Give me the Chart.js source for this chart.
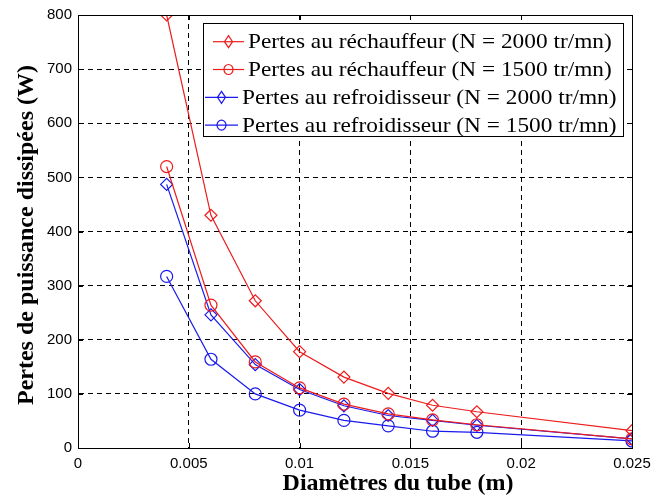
<!DOCTYPE html>
<html><head><meta charset="utf-8">
<script src="https://cdn.jsdelivr.net/npm/chart.js@4"></script>
<style>html,body{margin:0;padding:0;background:#fff}#wrap{width:651px;height:499px}</style>
</head><body><div id="wrap"><canvas id="c" width="651" height="499"></canvas></div>
<script>
const diameters = [0.004, 0.006, 0.008, 0.010, 0.012, 0.014, 0.016, 0.018, 0.025];
const rech2000 = [800, 430, 272, 178, 131, 101, 79, 67, 32];
const rech1500 = [520, 264, 159, 111, 81, 63, 52, 43, 17];
const refr2000 = [487, 246, 154, 108, 78, 60, 51, 42, 17];
const refr1500 = [317, 164, 100, 70, 51, 41, 31, 29, 13];
const xTickLabels = ["0", "0.005", "0.01", "0.015", "0.02", "0.025"];
const yTickLabels = ["0", "100", "200", "300", "400", "500", "600", "700", "800"];
const seriesLabels = [
  "Pertes au réchauffeur (N = 2000 tr/mn)",
  "Pertes au réchauffeur (N = 1500 tr/mn)",
  "Pertes au refroidisseur (N = 2000 tr/mn)",
  "Pertes au refroidisseur (N = 1500 tr/mn)"
];
const xTitle = 'Diamètres du tube (m)';
const yTitle = 'Pertes de puissance dissipées (W)';
const RED = '#ee1c1c', BLUE = '#1a1aee';
const SERIF = '"Liberation Serif", "Times New Roman", serif';
const SANS = '"Liberation Sans", Arial, sans-serif';

const mk = (vals, label, color, style) => ({
  label, data: vals.map((v, i) => ({x: diameters[i], y: v})),
  borderColor: color, backgroundColor: 'rgba(0,0,0,0)', borderWidth: 1.2,
  pointStyle: style, pointRadius: 6, pointBorderWidth: 1.2,
  pointBorderColor: color, pointBackgroundColor: 'rgba(0,0,0,0)', tension: 0
});
const datasets = [
  mk(rech2000, seriesLabels[0], RED, 'rectRot'),
  mk(rech1500, seriesLabels[1], RED, 'circle'),
  mk(refr2000, seriesLabels[2], BLUE, 'rectRot'),
  mk(refr1500, seriesLabels[3], BLUE, 'circle')
];

const framePlugin = {
  id: 'frame',
  afterDraw(chart) {
    const {ctx, chartArea: a, scales} = chart;
    ctx.save();
    ctx.strokeStyle = '#000'; ctx.lineWidth = 1; ctx.setLineDash([]);
    ctx.strokeRect(a.left + 0.5, a.top + 0.5, a.right - a.left, a.bottom - a.top);
    // inward ticks
    ctx.beginPath();
    scales.x.ticks.forEach(t => {
      const px = Math.round(scales.x.getPixelForValue(t.value)) + 0.5;
      ctx.moveTo(px, a.bottom); ctx.lineTo(px, a.bottom - 5);
      ctx.moveTo(px, a.top); ctx.lineTo(px, a.top + 5);
    });
    scales.y.ticks.forEach(t => {
      const py = Math.round(scales.y.getPixelForValue(t.value)) + 0.5;
      ctx.moveTo(a.left, py); ctx.lineTo(a.left + 5, py);
      ctx.moveTo(a.right, py); ctx.lineTo(a.right - 5, py);
    });
    ctx.stroke();

    // axis titles
    ctx.fillStyle = '#000';
    ctx.font = 'bold 24px ' + SERIF;
    ctx.textAlign = 'center'; ctx.textBaseline = 'alphabetic';
    ctx.fillText(xTitle, 398, 490);
    ctx.save();
    ctx.translate(33, 235);
    ctx.rotate(-Math.PI / 2);
    ctx.fillText(yTitle, 0, 0);
    ctx.restore();

    // legend box
    const bx = 203, by = 23, bw = 420, bh = 113;
    ctx.fillStyle = '#fff';
    ctx.fillRect(bx, by, bw, bh);
    ctx.strokeRect(bx + 0.5, by + 0.5, bw, bh);
    ctx.textAlign = 'left'; ctx.textBaseline = 'middle';
    const rows = [
      {x0: 213, x1: 244, tx: 248},
      {x0: 213, x1: 244, tx: 248},
      {x0: 205, x1: 238, tx: 242},
      {x0: 205, x1: 238, tx: 242}
    ];
    chart.data.datasets.forEach((ds, i) => {
      const y = 41.7 + i * 27.8;
      const r = rows[i];
      ctx.strokeStyle = ds.borderColor; ctx.lineWidth = 1.2;
      ctx.beginPath(); ctx.moveTo(r.x0, y); ctx.lineTo(r.x1, y); ctx.stroke();
      const cx = (r.x0 + r.x1) / 2;
      ctx.beginPath();
      if (ds.pointStyle === 'rectRot') {
        ctx.moveTo(cx, y - 6); ctx.lineTo(cx + 4, y); ctx.lineTo(cx, y + 6); ctx.lineTo(cx - 4, y); ctx.closePath();
      } else {
        ctx.ellipse(cx, y, 4.5, 5, 0, 0, Math.PI * 2);
      }
      ctx.stroke();
      ctx.fillStyle = '#000';
      ctx.font = '22px ' + SERIF;
      ctx.save();
      ctx.translate(r.tx, y + 1);
      ctx.scale(1.06, 1);
      ctx.fillText(ds.label, 0, 0);
      ctx.restore();
    });
    ctx.restore();
  }
};

new Chart(document.getElementById('c'), {
  type: 'line',
  data: {datasets},
  plugins: [framePlugin],
  options: {
    responsive: false, animation: false,
    layout: {padding: {top: 15, right: 19, left: 0, bottom: 0}},
    plugins: {legend: {display: false}, tooltip: {enabled: false}},
    scales: {
      x: {
        type: 'linear', min: 0, max: 0.025,
        ticks: {stepSize: 0.005, color: '#000', font: {family: SANS, size: 15}, padding: 7,
          callback: (v, i) => xTickLabels[i]},
        grid: {color: '#000', lineWidth: 1, drawTicks: false, tickLength: 0},
        border: {display: true, color: '#000', dash: [5, 4]},
        afterFit(s) { s.height = 51; s.paddingRight = 0; s.paddingLeft = 0; }
      },
      y: {
        min: 0, max: 800,
        ticks: {stepSize: 100, color: '#000', font: {family: SANS, size: 15}, padding: 6,
          callback: (v, i) => yTickLabels[i]},
        grid: {color: '#000', lineWidth: 1, drawTicks: false, tickLength: 0},
        border: {display: true, color: '#000', dash: [5, 4]},
        afterFit(s) { s.width = 78; s.paddingTop = 0; s.paddingBottom = 0; }
      }
    }
  }
});
</script>
</body></html>
